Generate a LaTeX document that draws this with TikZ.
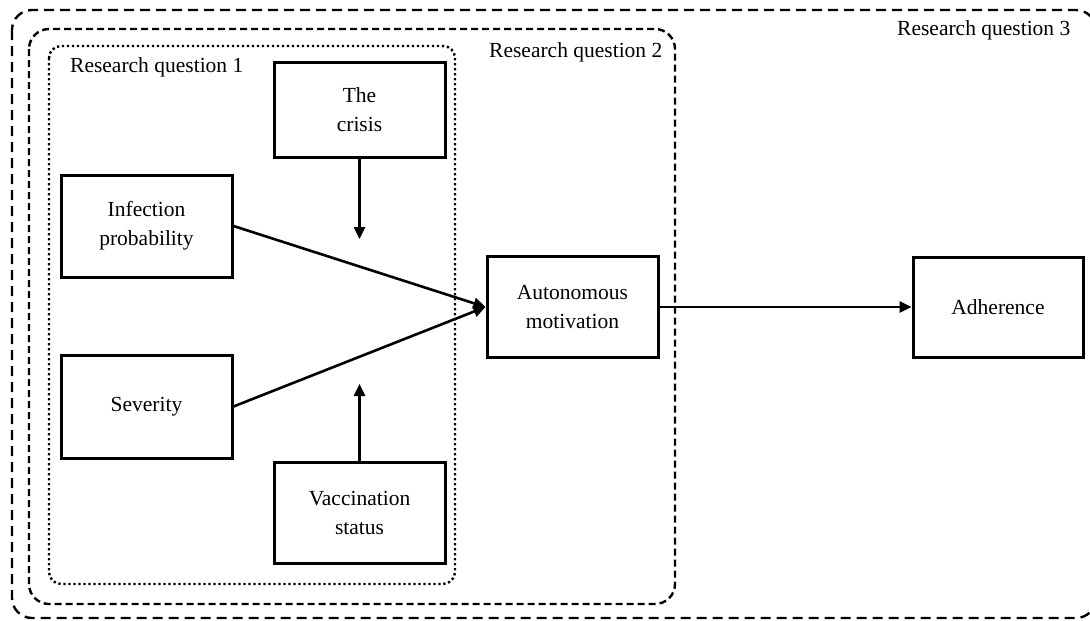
\documentclass[tikz,border=0pt]{standalone}
\usepackage{fontspec}
\setmainfont{Liberation Serif}
\usetikzlibrary{arrows.meta}
\begin{document}
\begin{tikzpicture}[x=1pt,y=-1pt,
  box/.style={draw,line width=3pt,inner sep=0pt,align=center,font=\fontsize{21.5}{29}\selectfont},
  conn/.style={line width=2.6pt,-{Triangle[length=12pt,width=11pt]}},
  lbl/.style={anchor=west,inner sep=0pt,font=\fontsize{21.5}{24}\selectfont},
  rq3/.style={draw,line width=2.4pt,dash pattern=on 10pt off 6pt,rounded corners=20pt},
  rq2/.style={draw,line width=2.4pt,dash pattern=on 7pt off 4pt,rounded corners=20pt},
  rq1/.style={draw,line width=2.4pt,dash pattern=on 2.3pt off 2.7pt,rounded corners=12pt}]
\useasboundingbox (0,0) rectangle (1090,621);
\clip (0,0) rectangle (1090,621);
\path[rq3] (12,10) rectangle (1096,618);
\path[rq2] (29,29) rectangle (675,604);
\path[rq1] (49,46) rectangle (455,584);
\node[lbl] (l1) at (70,67) {Research question 1};
\node[lbl] (l2) at (489,52) {Research question 2};
\node[lbl] (l3) at (897,30) {Research question 3};
\node[box,minimum width=171pt,minimum height=95pt] (crisis) at (359.5,109.5) {The\\crisis};
\node[box,minimum width=171pt,minimum height=102pt] (inf) at (146.5,226) {Infection\\probability};
\node[box,minimum width=171pt,minimum height=103pt] (sev) at (146.5,406.5) {Severity};
\node[box,minimum width=171pt,minimum height=101pt] (vac) at (359.5,512.5) {Vaccination\\status};
\node[box,minimum width=171pt,minimum height=101pt] (am) at (572.5,307) {Autonomous\\motivation};
\node[box,minimum width=170pt,minimum height=100pt] (adh) at (998,307) {Adherence};
\coordinate (c1) at (359.5,239);
\coordinate (c2) at (359.5,384);
\draw[conn] (inf.east) -- (am.west);
\draw[conn] (sev.east) -- (am.west);
\draw[conn] (crisis.south) -- (c1);
\draw[conn] (vac.north) -- (c2);
\draw[conn] (am.east) -- (adh.west);
\end{tikzpicture}
\end{document}
